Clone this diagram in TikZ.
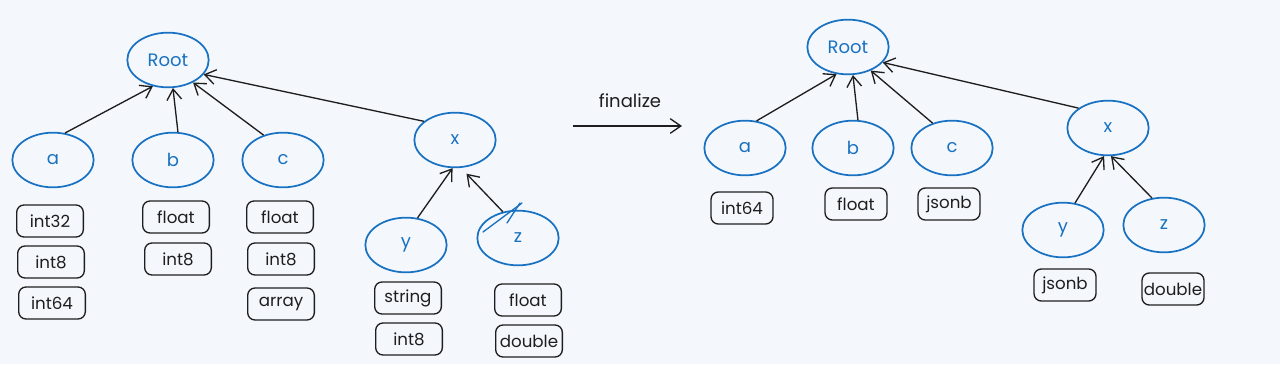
\documentclass[tikz,border=0pt]{standalone}
\usepackage{fontspec}
\setmainfont{Poppins}
\usetikzlibrary{arrows.meta,shapes.geometric}
\definecolor{bg}{HTML}{F4F8FC}
\definecolor{nodeblue}{HTML}{1971C2}
\definecolor{ink}{HTML}{1E1E1E}
\tikzset{
  treenode/.style={ellipse, draw=nodeblue, line width=1.3pt, text=nodeblue,
    minimum width=61pt, minimum height=41pt, inner sep=0pt,
    font=\fontsize{13.5}{15}\selectfont},
  typebox/.style={draw=ink, line width=1pt, rounded corners=5.5pt, text=ink,
    minimum width=50pt, minimum height=24pt, inner sep=0pt,
    font=\fontsize{12.5}{15}\selectfont},
  typeboxr/.style={typebox, minimum width=46.5pt},
  link/.style={draw=ink, line width=1pt, -{Straight Barb[length=8pt,width=11pt]}},
  stray/.style={draw=nodeblue, line width=1pt, line cap=round}
}
\begin{document}
\begin{tikzpicture}[x=0.75pt,y=-0.75pt]
\useasboundingbox[fill=bg] (0,0) rectangle (1280,364);

% ---------- left tree ----------
\node[treenode] (L-root) at (168,60) {Root};
\node[treenode] (L-a) at (53,160) {a};
\node[treenode] (L-b) at (173,160) {b};
\node[treenode] (L-c) at (283,160) {c};
\node[treenode] (L-x) at (455,140) {x};
\node[treenode] (L-y) at (406,245) {y};
\node[treenode] (L-z) at (518,238) {z};

\node[typebox] (La1) at (50,221) {int32};
\node[typebox] (La2) at (51,262) {int8};
\node[typebox] (La3) at (52,303) {int64};
\node[typebox] (Lb1) at (176,217) {float};
\node[typebox] (Lb2) at (178,259) {int8};
\node[typebox] (Lc1) at (280,217) {float};
\node[typebox] (Lc2) at (281,259) {int8};
\node[typebox] (Lc3) at (281,304) {array};
\node[typebox] (Ly1) at (408,298) {string};
\node[typebox] (Ly2) at (409,339) {int8};
\node[typebox] (Lz1) at (528,300) {float};
\node[typebox] (Lz2) at (529,341) {double};

\draw[link] (L-a.66) -- (L-root.240);
\draw[link] (L-b.80) -- (L-root.280);
\draw[link] (L-c.128) -- (L-root.318);
\draw[link] (L-x.149) -- (L-root.338);
\draw[link] (L-y.67) -- (L-x.265);
\draw[link, shorten >=6pt] (L-z.120) -- (L-x.282);

\coordinate (s1a) at (483,232);
\coordinate (s1b) at (522,203);
\coordinate (s2a) at (507,223);
\coordinate (s2b) at (520,203);
\draw[stray] (s1a) -- (s1b);
\draw[stray] (s2a) -- (s2b);

% ---------- finalize ----------
\coordinate (fin-s) at (573,126);
\coordinate (fin-e) at (682,126);
\draw[link] (fin-s) -- (fin-e);
\node[text=ink, font=\fontsize{13.5}{15}\selectfont] (fin-label) at (630,101) {finalize};

% ---------- right tree ----------
\node[treenode] (R-root) at (848,47) {Root};
\node[treenode] (R-a) at (745,148) {a};
\node[treenode] (R-b) at (853,148) {b};
\node[treenode] (R-c) at (952,148) {c};
\node[treenode] (R-x) at (1108,128) {x};
\node[treenode] (R-y) at (1063,230) {y};
\node[treenode] (R-z) at (1164,225) {z};

\node[typeboxr] (Ra1) at (742,208) {int64};
\node[typeboxr] (Rb1) at (856,204) {float};
\node[typeboxr] (Rc1) at (949,204) {jsonb};
\node[typeboxr] (Ry1) at (1065,285) {jsonb};
\node[typeboxr] (Rz1) at (1173,289) {double};

\draw[link] (R-a.67) -- (R-root.247);
\draw[link] (R-b.80) -- (R-root.280);
\draw[link] (R-c.128) -- (R-root.314);
\draw[link] (R-x.146) -- (R-root.336);
\draw[link] (R-y.66) -- (R-x.262);
\draw[link] (R-z.114) -- (R-x.276);
\end{tikzpicture}
\end{document}
